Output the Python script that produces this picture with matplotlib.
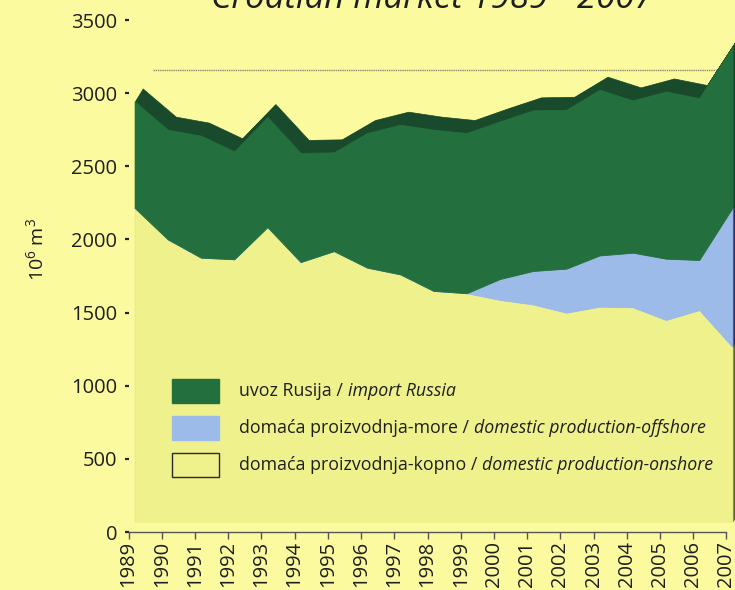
import matplotlib
matplotlib.use("Agg")
import matplotlib.pyplot as plt
import numpy as np
from matplotlib.transforms import ScaledTranslation
from matplotlib.offsetbox import AnchoredOffsetbox, HPacker, VPacker, TextArea, DrawingArea
from matplotlib.patches import Rectangle

# ---------------- data (10^6 m^3) ----------------
years = list(range(1989, 2008))
onshore = [2148, 1932, 1807, 1796, 2016, 1777, 1852, 1739, 1693, 1580,
           1564, 1518, 1487, 1431, 1472, 1468, 1381, 1449, 1197]
offshore = [0, 0, 0, 0, 0, 0, 0, 0, 0, 0,
            0, 143, 229, 301, 350, 373, 419, 342, 950]
import_russia = [727, 750, 834, 738, 752, 746, 675, 920, 1023, 1102,
                 1095, 1078, 1098, 1086, 1133, 1041, 1143, 1107, 1100]
ref_level = 3158
y_ticks = [0, 500, 1000, 1500, 2000, 2500, 3000, 3500]

title = "Croatian market 1989 - 2007"
legend_regular = ["uvoz Rusija /", "domaća proizvodnja-more /", "domaća proizvodnja-kopno /"]
legend_italic = ["import Russia", "domestic production-offshore", "domestic production-onshore"]

# ---------------- style ----------------
plt.rcParams['font.family'] = ['Open Sans', 'DejaVu Sans']
plt.rcParams['mathtext.fontset'] = 'custom'
plt.rcParams['mathtext.rm'] = 'Open Sans'
plt.rcParams['mathtext.it'] = 'Open Sans:italic'

BG = '#fcfa9e'
C_ON, C_OFF, C_IMP = '#eff28c', '#9cbbe8', '#23703e'
D_ON, D_OFF, D_IMP = '#5b6331', '#2d2c66', '#184a2b'
TXT = '#1e1e1e'

W, H = 735, 590
fig = plt.figure(figsize=(W / 100, H / 100), dpi=100, facecolor=BG)
L, R, B, T = 128.6, 726.4, 532, 20
ax = fig.add_axes([L / W, (H - B) / H, (R - L) / W, (B - T) / H])
ax.set_facecolor('none')
ax.set_xlim(years[0], years[-1])
ax.set_ylim(0, 3500)

x = np.array(years)
lvl1 = np.array(onshore)
lvl2 = lvl1 + np.array(offshore)
lvl3 = lvl2 + np.array(import_russia)


def shifted(dxp, dyp):
    return ax.transData + ScaledTranslation(dxp / 100, dyp / 100, fig.dpi_scale_trans)


front_dx, front_dy = 6, 10
depth_dx, depth_dy = 8, 13

# depth (3-D extrusion) in darker tones
for t in np.linspace(1.0, 0.05, 14):
    tr = shifted(front_dx + depth_dx * t, front_dy + depth_dy * t)
    for lo, hi, c in [(0, lvl1, D_ON), (lvl1, lvl2, D_OFF), (lvl2, lvl3, D_IMP)]:
        ax.fill_between(x, lo, hi, facecolor=c, edgecolor=c, lw=0.5,
                        transform=tr, clip_on=False, zorder=1)

# front faces
tr = shifted(front_dx, front_dy)
for lo, hi, c in [(0, lvl1, C_ON), (lvl1, lvl2, C_OFF), (lvl2, lvl3, C_IMP)]:
    ax.fill_between(x, lo, hi, facecolor=c, edgecolor=c, lw=0.6,
                    transform=tr, clip_on=False, zorder=2)

ax.axhline(ref_level, xmin=0.041, xmax=0.993, color='#8c8a6a', lw=1.0,
           ls=(0, (1, 0.6)), zorder=0)

# axes styling
for s in ['left', 'top', 'right']:
    ax.spines[s].set_visible(False)
ax.spines['bottom'].set_color('#555555')
ax.spines['bottom'].set_linewidth(1.0)
ax.set_xticks(years)
ax.set_xticklabels([str(y) for y in years], rotation=90, fontsize=14.5, color=TXT)
ax.set_yticks(y_ticks)
ax.set_yticklabels([str(v) for v in y_ticks], fontsize=14.5, color=TXT)
ax.tick_params(axis='x', direction='out', length=5, width=1, color='#555555', pad=1.5)
ax.tick_params(axis='y', direction='out', length=3, width=1.6, color='#222222', pad=5)

fig.text(36 / W, 1 - 250 / H, r'10$^{6}$ m$^{3}$', rotation=90, fontsize=14,
         color=TXT, ha='center', va='center')
fig.text(432 / W, 1 - 8 / H, title, fontsize=25, style='italic', color=TXT,
         ha='center', va='baseline')

# legend
rows = []
pt = 0.72
for face, edge, reg, ita in [(C_IMP, C_IMP, legend_regular[0], legend_italic[0]),
                             (C_OFF, C_OFF, legend_regular[1], legend_italic[1]),
                             (C_ON, '#2a2a2a', legend_regular[2], legend_italic[2])]:
    da = DrawingArea(47 * pt, 24 * pt)
    da.add_artist(Rectangle((0, 0), 47 * pt, 24 * pt, facecolor=face, edgecolor=edge, lw=1))
    t1 = TextArea(reg, textprops=dict(fontsize=12.8, color=TXT))
    t2 = TextArea(ita, textprops=dict(fontsize=12.8, color=TXT, style='italic'))
    txt = HPacker(children=[t1, t2], align='baseline', pad=0, sep=3.5)
    rows.append(HPacker(children=[da, txt], align='center', pad=0, sep=20 * pt))
leg = AnchoredOffsetbox(loc='upper left', child=VPacker(children=rows, align='left', pad=0, sep=13 * pt),
                        pad=0, borderpad=0, frameon=False,
                        bbox_to_anchor=(172 / W, 1 - 379 / H), bbox_transform=fig.transFigure)
ax.add_artist(leg)

fig.savefig('out.png', dpi=100, facecolor=BG)
